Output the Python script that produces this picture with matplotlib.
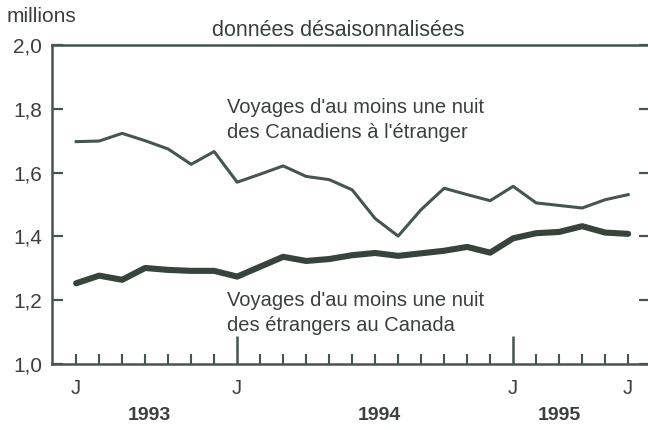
import numpy as np
import matplotlib.pyplot as plt
import matplotlib.transforms as mtransforms

plt.rcParams['font.family'] = ['Liberation Sans', 'DejaVu Sans']

# Monthly data, June 1993 - June 1995 (millions, seasonally adjusted)
months = ['J', 'J', 'A', 'S', 'O', 'N', 'D',
          'J', 'F', 'M', 'A', 'M', 'J', 'J', 'A', 'S', 'O', 'N', 'D',
          'J', 'F', 'M', 'A', 'M', 'J']
canadiens = [1.697, 1.699, 1.723, 1.700, 1.674, 1.626, 1.666,
             1.570, 1.595, 1.621, 1.588, 1.578, 1.546, 1.456, 1.401, 1.484, 1.551, 1.531, 1.512,
             1.557, 1.505, 1.497, 1.489, 1.515, 1.531]
etrangers = [1.253, 1.277, 1.264, 1.301, 1.295, 1.292, 1.292,
             1.274, 1.305, 1.336, 1.323, 1.329, 1.341, 1.348, 1.339, 1.347, 1.355, 1.367, 1.349,
             1.394, 1.410, 1.414, 1.432, 1.412, 1.408]
labelled_ticks = [0, 7, 19, 24]
years = ['1993', '1994', '1995']
year_pos = [3.2, 13.2, 21.0]   # where the year labels sit, in month units
yticks = [1.0, 1.2, 1.4, 1.6, 1.8, 2.0]

ink = '#46554d'
txt = '#3a403c'

fig = plt.figure(figsize=(6.48, 4.30), dpi=100)
ax = fig.add_axes([52/648, 1 - 364/430, (650 - 52)/648, 319/430])

x = np.arange(len(months))
ax.plot(x, canadiens, color=ink, lw=2.2, solid_joinstyle='round')
ax.plot(x, etrangers, color='#36443c', lw=4.4, solid_joinstyle='round', solid_capstyle='round')

ax.set_xlim(-1.05, 24.95)
ax.set_ylim(1.0, 2.0)

for s in ['left', 'top', 'bottom']:
    ax.spines[s].set_color(ink)
    ax.spines[s].set_linewidth(1.8)
ax.spines['right'].set_visible(False)

ax.set_yticks(yticks)
ax.set_yticklabels([f'{v:.1f}'.replace('.', ',') for v in yticks], fontsize=15, color=txt)
ax.tick_params(axis='y', direction='in', length=8, width=1.6, color=ink, right=True, pad=7)

major = [i for i in x if months[i] == 'J' and i not in (0, 24) and i in labelled_ticks]
minor = [i for i in x if i not in major]
ax.set_xticks(major)
ax.set_xticks(minor, minor=True)
ax.set_xticklabels([])
ax.tick_params(axis='x', which='major', direction='in', length=20, width=1.8, color=ink)
ax.tick_params(axis='x', which='minor', direction='in', length=7, width=1.5, color=ink)

trans = mtransforms.blended_transform_factory(ax.transData, ax.transAxes)
for i in labelled_ticks:
    ax.text(i, -25/319, months[i], transform=trans, ha='center', va='center',
            fontsize=14.5, color=txt)
for yr, xp in zip(years, year_pos):
    ax.text(xp, -52/319, yr, transform=trans, ha='center', va='center',
            fontsize=14, fontweight='bold', color=txt)

fig.text(7/648, 1 - 17/430, 'millions', ha='left', va='center', fontsize=15, color=txt)
fig.text(338/648, 1 - 30/430, 'données désaisonnalisées', ha='center', va='center',
         fontsize=15.5, color=txt)

ax.text(227/648, 1 - 120/430, "Voyages d'au moins une nuit\ndes Canadiens à l'étranger",
        transform=fig.transFigure, ha='left', va='center', fontsize=14.5, color=txt,
        linespacing=1.45)
ax.text(227/648, 1 - 313/430, "Voyages d'au moins une nuit\ndes étrangers au Canada",
        transform=fig.transFigure, ha='left', va='center', fontsize=14.5, color=txt,
        linespacing=1.45)

fig.savefig('out.png', dpi=100)
